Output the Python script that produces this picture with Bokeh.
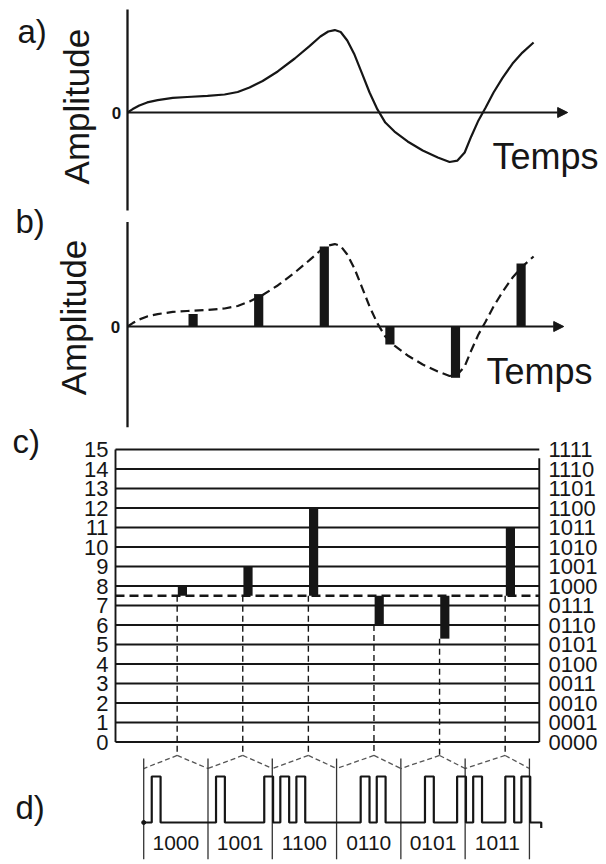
import numpy as np
from bokeh.plotting import figure
from bokeh.models import Range1d, Arrow, NormalHead
from bokeh.core.properties import value
from bokeh.embed import file_html
from bokeh.resources import INLINE

# ---------------- data ----------------
# analog signal: time in sampling periods, amplitude in quantisation steps
signal_t = [0.00, 0.08, 0.18, 0.30, 0.46, 0.69, 0.91, 1.22, 1.48, 1.68,
            1.86, 2.06, 2.29, 2.55, 2.77, 2.94, 3.06, 3.16, 3.25, 3.35,
            3.46, 3.57, 3.69, 3.81, 3.93, 4.07, 4.27, 4.50, 4.73, 4.91,
            5.03, 5.14, 5.24, 5.35, 5.46, 5.58, 5.72, 5.87, 6.02, 6.19]
signal_a = [0.00, 0.19, 0.39, 0.56, 0.69, 0.81, 0.86, 0.92, 1.00, 1.14,
            1.39, 1.75, 2.28, 3.00, 3.67, 4.22, 4.50, 4.58, 4.47, 4.00,
            3.22, 2.22, 1.11, 0.17, -0.56, -1.06, -1.61, -2.11, -2.50, -2.75,
            -2.67, -2.22, -1.33, -0.44, 0.28, 1.11, 1.94, 2.72, 3.33, 3.89]

# b) samples
sample_t = [1, 2, 3, 4, 5, 6]
sample_a = [0.70, 1.80, 4.45, -1.00, -2.85, 3.50]

# c) quantisation
levels = list(range(16))
level_labels = ["0", "1", "2", "3", "4", "5", "6", "7",
                "8", "9", "10", "11", "12", "13", "14", "15"]
level_codes = ["0000", "0001", "0010", "0011", "0100", "0101", "0110", "0111",
               "1000", "1001", "1010", "1011", "1100", "1101", "1110", "1111"]
zero_level = 7.5
quant_value = [8, 9, 12, 6, 5.3, 11]

# d) PCM words
pcm_words = ["1000", "1001", "1100", "0110", "0101", "1011"]

# ---------------- layout ----------------
INK = "#161616"
FONT = value("Liberation Sans")
W, H = 604, 860
SX = 65.6  # px per sampling period


def xr(origin_px):
    return Range1d((0 - origin_px) / SX, (W - origin_px) / SX)


def yr(zero_px, px_per_unit):
    return Range1d((zero_px - H) / px_per_unit, (zero_px - 0) / px_per_unit)


p = figure(width=W, height=H, x_range=Range1d(0, W), y_range=Range1d(H, 0),
           output_backend="svg", toolbar_location=None,
           x_axis_type=None, y_axis_type=None, min_border=0,
           outline_line_color=None, background_fill_color="white")
p.extra_x_ranges = {"ab": xr(127), "cd": xr(115)}
p.extra_y_ranges = {"a": yr(112, 18), "b": yr(326, 18),
                    "c": yr(741.5, 19.5), "d": yr(822, 46)}

# ---------------- panel a ----------------
p.segment(x0=[0], y0=[-5.45], x1=[0], y1=[5.72], x_range_name="ab", y_range_name="a",
          line_width=2.3, line_color=INK)
p.add_layout(Arrow(end=NormalHead(size=10, fill_color=INK, line_color=INK),
                   x_start=0, y_start=0, x_end=6.71, y_end=0, line_width=2.2,
                   line_color=INK, x_range_name="ab", y_range_name="a"))
p.line(signal_t, signal_a, x_range_name="ab", y_range_name="a",
       line_width=2.2, line_color=INK, line_join="round")

# ---------------- panel b ----------------
p.segment(x0=[0], y0=[-5.6], x1=[0], y1=[5.8], x_range_name="ab", y_range_name="b",
          line_width=2.3, line_color=INK)
p.add_layout(Arrow(end=NormalHead(size=10, fill_color=INK, line_color=INK),
                   x_start=0, y_start=0, x_end=6.65, y_end=0, line_width=2.2,
                   line_color=INK, x_range_name="ab", y_range_name="b"))
p.line(signal_t, signal_a, x_range_name="ab", y_range_name="b",
       line_width=2.2, line_color=INK, line_dash="9 5")
p.vbar(x=sample_t, width=0.14,
       bottom=[min(0, a) for a in sample_a], top=[max(0, a) for a in sample_a],
       x_range_name="ab", y_range_name="b", fill_color=INK, line_color=None)

# ---------------- panel c ----------------
grid_right = 6.46
p.segment(x0=[0] * len(levels), x1=[grid_right] * len(levels), y0=levels, y1=levels,
          x_range_name="cd", y_range_name="c", line_width=1.9, line_color=INK)
p.segment(x0=[0, grid_right], x1=[0, grid_right], y0=[0, 0], y1=[15, 14.55],
          x_range_name="cd", y_range_name="c", line_width=1.9, line_color=INK)
p.segment(x0=[0], x1=[grid_right], y0=[zero_level], y1=[zero_level],
          x_range_name="cd", y_range_name="c", line_width=2.6, line_color=INK,
          line_dash="9 5")
p.vbar(x=[t + 0.02 for t in sample_t], width=0.14,
       bottom=[min(zero_level, q) for q in quant_value],
       top=[max(zero_level, q) for q in quant_value],
       x_range_name="cd", y_range_name="c", fill_color=INK, line_color=None)
apex_c = -0.69
p.segment(x0=[t - 0.06 for t in sample_t], x1=[t - 0.06 for t in sample_t],
          y0=[min(zero_level, q) for q in quant_value], y1=[apex_c] * len(sample_t),
          x_range_name="cd", y_range_name="c", line_width=1.4, line_color=INK,
          line_dash="6 4")
p.text(x=[-0.107] * len(levels), y=levels, text=level_labels,
       x_range_name="cd", y_range_name="c", text_align="right", text_baseline="middle",
       text_font=FONT, text_font_size="22px", text_color=INK)
p.text(x=[6.6] * len(levels), y=levels, text=level_codes,
       x_range_name="cd", y_range_name="c", text_align="left", text_baseline="middle",
       text_font=FONT, text_font_size="22px", text_color=INK)

# ---------------- panel d ----------------
word_t0, word_len = 0.43, 0.98
slot = word_len / 4
bounds = [word_t0 + k * word_len for k in range(len(pcm_words) + 1)]
fan_end = -1.36
fx0, fy0, fx1, fy1 = [], [], [], []
for k, t in enumerate(sample_t):
    for b in (bounds[k], bounds[k + 1]):
        fx0.append(t - 0.06); fy0.append(apex_c); fx1.append(b); fy1.append(fan_end)
p.segment(x0=fx0, y0=fy0, x1=fx1, y1=fy1, x_range_name="cd", y_range_name="c",
          line_width=1.3, line_color="#555555", line_dash="5 3")
p.segment(x0=bounds, x1=bounds, y0=[1.39] * len(bounds), y1=[-0.8] * len(bounds),
          x_range_name="cd", y_range_name="d", line_width=1.3, line_color="#333333")

wx, wy = [word_t0], [0]
for k, w in enumerate(pcm_words):
    for j, bit in enumerate(w):
        if bit == "1":
            s = word_t0 + k * word_len + j * slot
            a0, a1 = s + 0.5 * slot, s + 1.05 * slot
            wx += [a0, a0, a1, a1]
            wy += [0, 1, 1, 0]
wend = 6.49
wx += [wend, wend]
wy += [0, -0.12]
p.line(wx, wy, x_range_name="cd", y_range_name="d", line_width=2.2, line_color=INK)
p.scatter(x=[word_t0], y=[0], size=4, marker="circle", x_range_name="cd",
          y_range_name="d", fill_color=INK, line_color=INK)
p.text(x=[word_t0 + (k + 0.5) * word_len for k in range(len(pcm_words))],
       y=[-0.435] * len(pcm_words), text=pcm_words,
       x_range_name="cd", y_range_name="d", text_align="center", text_baseline="middle",
       text_font=FONT, text_font_size="21px", text_color=INK)

# ---------------- labels ----------------
p.text(x=[17, 15, 12, 15], y=[31, 221, 441, 807], text=["a)", "b)", "c)", "d)"],
       text_align="left", text_baseline="alphabetic",
       text_font=FONT, text_font_size="33px", text_color=INK)
p.text(x=[492, 486], y=[156, 371], text=["Temps", "Temps"],
       text_align="left", text_baseline="alphabetic",
       text_font=FONT, text_font_size="36px", text_color=INK)
p.text(x=[116, 115], y=[112, 326], text=["0", "0"],
       text_align="center", text_baseline="middle",
       text_font=FONT, text_font_size="17px", text_font_style="bold", text_color=INK)
p.text(x=[-0.777], y=[0.33], text=["Amplitude"], angle=np.pi / 2,
       x_range_name="ab", y_range_name="a", text_align="center", text_baseline="middle",
       text_font=FONT, text_font_size="35px", text_color=INK)
p.text(x=[-0.823], y=[0.50], text=["Amplitude"], angle=np.pi / 2,
       x_range_name="ab", y_range_name="b", text_align="center", text_baseline="middle",
       text_font=FONT, text_font_size="35px", text_color=INK)

open("out.html", "w").write(file_html(p, INLINE))
